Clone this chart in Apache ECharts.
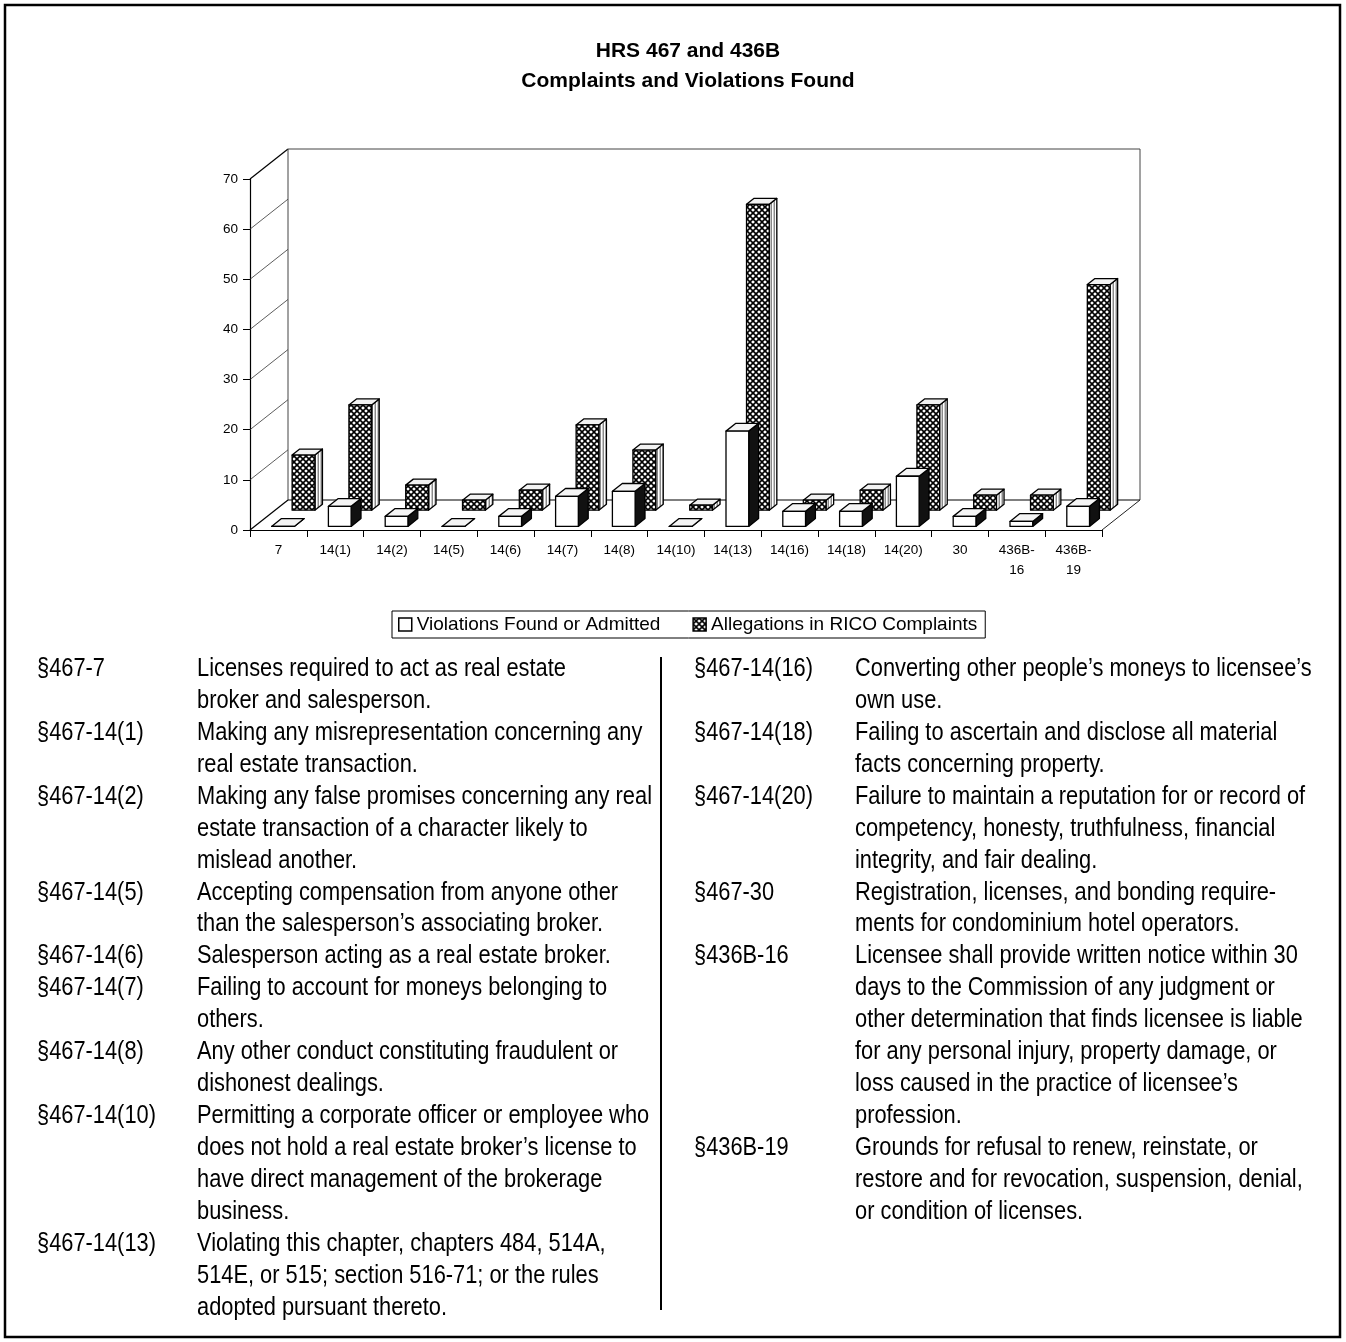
<!DOCTYPE html>
<html>
<head>
<meta charset="utf-8">
<script src="https://cdn.jsdelivr.net/npm/echarts@6/dist/echarts.min.js"></script>
<style>
  html, body { margin: 0; padding: 0; background: #fff; }
  #main { width: 1346px; height: 1342px; }
</style>
</head>
<body>
<div id="main"></div>
<script>
// ---- chart data ----
const categories = ['7', '14(1)', '14(2)', '14(5)', '14(6)', '14(7)', '14(8)', '14(10)',
  '14(13)', '14(16)', '14(18)', '14(20)', '30', '436B-\n16', '436B-\n19'];
const violations = [0, 4, 2, 0, 2, 6, 7, 0, 19, 3, 3, 10, 2, 1, 4];
const allegations = [11, 21, 5, 2, 4, 17, 12, 1, 61, 2, 4, 21, 3, 3, 45];
const yTicks = [0, 10, 20, 30, 40, 50, 60, 70];

const seriesNames = ['Violations Found or Admitted', 'Allegations in RICO Complaints'];
const titleLines = ['HRS 467 and 436B', 'Complaints and Violations Found'];

// ---- statute glossary ----
const leftCodes = ['§467-7', '§467-14(1)', '§467-14(2)', '§467-14(5)', '§467-14(6)',
  '§467-14(7)', '§467-14(8)', '§467-14(10)', '§467-14(13)'];
const leftTexts = [
  ['Licenses required to act as real estate', 'broker and salesperson.'],
  ['Making any misrepresentation concerning any', 'real estate transaction.'],
  ['Making any false promises concerning any real', 'estate transaction of a character likely to', 'mislead another.'],
  ['Accepting compensation from anyone other', 'than the salesperson’s associating broker.'],
  ['Salesperson acting as a real estate broker.'],
  ['Failing to account for moneys belonging to', 'others.'],
  ['Any other conduct constituting fraudulent or', 'dishonest dealings.'],
  ['Permitting a corporate officer or employee who', 'does not hold a real estate broker’s license to', 'have direct management of the brokerage', 'business.'],
  ['Violating this chapter, chapters 484, 514A,', '514E, or 515; section 516-71; or the rules', 'adopted pursuant thereto.']
];
const rightCodes = ['§467-14(16)', '§467-14(18)', '§467-14(20)', '§467-30', '§436B-16', '§436B-19'];
const rightTexts = [
  ['Converting other people’s moneys to licensee’s', 'own use.'],
  ['Failing to ascertain and disclose all material', 'facts concerning property.'],
  ['Failure to maintain a reputation for or record of', 'competency, honesty, truthfulness, financial', 'integrity, and fair dealing.'],
  ['Registration, licenses, and bonding require-', 'ments for condominium hotel operators.'],
  ['Licensee shall provide written notice within 30', 'days to the Commission of any judgment or', 'other determination that finds licensee is liable', 'for any personal injury, property damage, or', 'loss caused in the practice of licensee’s', 'profession.'],
  ['Grounds for refusal to renew, reinstate, or', 'restore and for revocation, suspension, denial,', 'or condition of licenses.']
];

// ---- styling helpers ----
const FONT = "'Liberation Sans', Arial, Helvetica, sans-serif";
const NARROW = "'Liberation Sans Narrow', 'Liberation Sans', Arial, sans-serif";
const DX = 38, DY = -30;          // depth offset of the floor / back wall
const BAR_RATIO = 0.4;            // bar width as a share of the category band
const FRONT_ROW = { t0: 0.12, t1: 0.38 };
const BACK_ROW = { t0: 0.66, t1: 0.86 };

function hatchPattern() {
  const c = document.createElement('canvas');
  c.width = 6; c.height = 6;
  const g = c.getContext('2d');
  g.fillStyle = '#fff'; g.fillRect(0, 0, 6, 6);
  g.strokeStyle = '#000'; g.lineWidth = 1.6;
  for (const k of [-6, 0, 6]) {
    g.beginPath(); g.moveTo(k, 0); g.lineTo(k + 6, 6); g.stroke();
    g.beginPath(); g.moveTo(k + 6, 0); g.lineTo(k, 6); g.stroke();
  }
  return { image: c, repeat: 'repeat' };
}
function stripePattern() {
  const c = document.createElement('canvas');
  c.width = 3; c.height = 4;
  const g = c.getContext('2d');
  g.fillStyle = '#fff'; g.fillRect(0, 0, 3, 4);
  g.fillStyle = '#8a8a8a'; g.fillRect(0, 0, 1, 4);
  g.fillStyle = '#c8c8c8'; g.fillRect(2, 0, 1, 4);
  return { image: c, repeat: 'repeat' };
}
const HATCH = hatchPattern();
const STRIPES = stripePattern();

// 3D-looking block drawn from the axis scales
function barRenderer(row, faces) {
  return function (params, api) {
    const i = api.value(0), v = api.value(1);
    const base = api.coord([i, 0]);
    const top = api.coord([i, v]);
    const w = api.size([1, 0])[0] * BAR_RATIO;
    const xl = base[0] - w / 2, xr = base[0] + w / 2;
    const yb = base[1], yt = top[1];
    const a = [DX * row.t0, DY * row.t0], b = [DX * row.t1, DY * row.t1];
    const p = (x, y, o) => [x + o[0], y + o[1]];
    const stroke = { stroke: '#000', lineWidth: 1.3, lineJoin: 'round' };
    return {
      type: 'group',
      children: [
        { type: 'polygon', shape: { points: [p(xr, yt, a), p(xr, yt, b), p(xr, yb, b), p(xr, yb, a)] },
          style: Object.assign({ fill: faces.side }, stroke) },
        { type: 'polygon', shape: { points: [p(xl, yt, a), p(xr, yt, a), p(xr, yt, b), p(xl, yt, b)] },
          style: Object.assign({ fill: faces.top }, stroke) },
        { type: 'rect', shape: { x: xl + a[0], y: yt + a[1], width: w, height: yb - yt },
          style: Object.assign({ fill: faces.front }, stroke) }
      ]
    };
  };
}

// floor, left wall and back wall frame
function wallRenderer(params, api) {
  const cs = params.coordSys;
  const x0 = cs.x, x1 = cs.x + cs.width;
  const y0 = api.coord([0, 0])[1];
  const yTop = api.coord([0, yTicks[yTicks.length - 1]])[1];
  const line = (ax, ay, bx, by, wdt, col) => ({
    type: 'line', shape: { x1: ax, y1: ay, x2: bx, y2: by },
    style: { stroke: col || '#222', lineWidth: wdt || 1 }
  });
  const children = [];
  yTicks.forEach(v => {
    const edge = v === yTicks[0] || v === yTicks[yTicks.length - 1];
    const y = api.coord([0, v])[1];
    children.push(line(x0, y, x0 + DX, y + DY, edge ? 1.2 : 0.8, edge ? '#000' : '#333'));
  });
  children.push(line(x0 + DX, yTop + DY, x0 + DX, y0 + DY, 1, '#444'));
  children.push(line(x0 + DX, yTop + DY, x1 + DX, yTop + DY, 1, '#444'));
  children.push(line(x1 + DX, yTop + DY, x1 + DX, y0 + DY, 1, '#444'));
  children.push(line(x0 + DX, y0 + DY, x1 + DX, y0 + DY, 1.2, '#000'));
  children.push(line(x1, y0, x1 + DX, y0 + DY, 1, '#222'));
  return { type: 'group', children };
}

// ---- glossary as graphic text ----
const measureCtx = document.createElement('canvas').getContext('2d');
const GLOSS_SIZE = 25;
measureCtx.font = GLOSS_SIZE + 'px ' + NARROW;
const glossScale = 455 / measureCtx.measureText('Making any false promises concerning any real').width;

function glossColumn(codes, texts, codeX, textX, firstY, step) {
  const out = [];
  let row = 0;
  const txt = (s, x, y) => ({
    type: 'text', x: x, y: y, scaleX: glossScale, silent: true,
    style: { text: s, fontSize: GLOSS_SIZE, fontFamily: NARROW, fill: '#000',
      textVerticalAlign: 'middle', verticalAlign: 'middle' }
  });
  codes.forEach((code, k) => {
    out.push(txt(code, codeX, firstY + step * row));
    texts[k].forEach(l => { out.push(txt(l, textX, firstY + step * row)); row++; });
  });
  return out;
}

const graphics = [
  { type: 'rect', shape: { x: 5, y: 5, width: 1335, height: 1332 }, silent: true,
    style: { fill: 'none', stroke: '#000', lineWidth: 2.5 } },
  { type: 'line', shape: { x1: 661, y1: 657, x2: 661, y2: 1310 }, silent: true,
    style: { stroke: '#000', lineWidth: 2 } }
].concat(glossColumn(leftCodes, leftTexts, 37, 197, 669, 31.95))
 .concat(glossColumn(rightCodes, rightTexts, 694, 855, 669, 31.95));

const chart = echarts.init(document.getElementById('main'), null, { renderer: 'canvas' });
chart.setOption({
  animation: false,
  backgroundColor: '#fff',
  title: {
    text: titleLines.join('\n'),
    left: 683, top: 31, textAlign: 'center',
    textStyle: { fontSize: 21, fontWeight: 'bold', fontFamily: FONT, color: '#000', lineHeight: 30 }
  },
  legend: {
    left: 392, top: 611,
    itemWidth: 13, itemHeight: 13, itemGap: 32,
    padding: [4, 8, 4, 6],
    borderColor: '#000', borderWidth: 1,
    textStyle: { fontSize: 19, fontFamily: FONT, color: '#000' },
    data: [
      { name: seriesNames[0], icon: 'rect', itemStyle: { color: '#fff', borderColor: '#000', borderWidth: 1.5 } },
      { name: seriesNames[1], icon: 'rect', itemStyle: { color: HATCH, borderColor: '#000', borderWidth: 1.5 } }
    ]
  },
  grid: { left: 250, top: 179, width: 852, height: 351, containLabel: false },
  xAxis: {
    type: 'category',
    data: categories,
    boundaryGap: true,
    axisLine: { show: true, lineStyle: { color: '#000', width: 1.2 } },
    axisTick: { show: true, length: 7, lineStyle: { color: '#000' } },
    axisLabel: { color: '#000', fontSize: 13.5, fontFamily: FONT, margin: 10, lineHeight: 20, interval: 0 },
    splitLine: { show: false }
  },
  yAxis: {
    type: 'value',
    min: 0, max: 70, interval: 10,
    axisLine: { show: true, lineStyle: { color: '#000', width: 1.2 } },
    axisTick: { show: true, length: 7, lineStyle: { color: '#000' } },
    axisLabel: { color: '#000', fontSize: 13.5, fontFamily: FONT, margin: 12 },
    splitLine: { show: false }
  },
  series: [
    {
      name: 'walls', type: 'custom', silent: true, clip: false, z: 1,
      data: [[0, 0]], renderItem: wallRenderer
    },
    {
      name: seriesNames[1], type: 'custom', clip: false, z: 2,
      itemStyle: { color: HATCH, borderColor: '#000' },
      data: categories.map((c, i) => [i, allegations[i]]),
      renderItem: barRenderer(BACK_ROW, { front: HATCH, side: STRIPES, top: '#f2f2f2' })
    },
    {
      name: seriesNames[0], type: 'custom', clip: false, z: 3,
      itemStyle: { color: '#fff', borderColor: '#000' },
      data: categories.map((c, i) => [i, violations[i]]),
      renderItem: barRenderer(FRONT_ROW, { front: '#fff', side: '#111', top: '#f4f4f4' })
    }
  ],
  graphic: graphics
});
</script>
</body>
</html>
